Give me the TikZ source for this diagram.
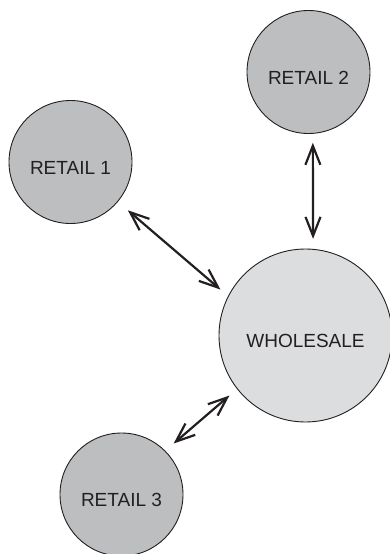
\documentclass[tikz,border=0pt]{standalone}
\usepackage{fontspec}
\setmainfont{Liberation Sans}
\usetikzlibrary{arrows.meta}
\definecolor{retailfill}{HTML}{BCBEC0}
\definecolor{wholefill}{HTML}{DCDDDE}
\definecolor{ink}{HTML}{231F20}
\begin{document}
\begin{tikzpicture}[x=1pt,y=-1pt,
  market/.style={circle, draw=ink, line width=0.9pt, text=ink,
    font=\fontsize{19}{21}\selectfont, text height=24pt, text depth=0pt,
    inner sep=0pt},
  retail/.style={market, fill=retailfill, minimum size=123pt},
  wholesale/.style={market, fill=wholefill, minimum size=173pt},
  link/.style={draw=ink, line width=2.2pt,
    {Straight Barb[length=19pt,width=15pt]}-{Straight Barb[length=19pt,width=15pt]}}]
  \useasboundingbox (0,0) rectangle (390,554);

  \node[retail]    (r1) at (70.5,162)   {RETAIL 1};
  \node[retail]    (r2) at (308.5,72)   {RETAIL 2};
  \node[wholesale] (w)  at (305.5,335.5) {WHOLESALE};
  \node[retail]    (r3) at (121.5,494.5) {RETAIL 3};

  \draw[link, shorten <=13pt, shorten >=10pt] (r1.-40) -- (w.153);
  \draw[link, shorten <=9pt,  shorten >=10pt] (r2.-86.3) -- (w.85.6);
  \draw[link, shorten <=11pt, shorten >=10pt] (r3.45) -- (w.-142);
\end{tikzpicture}
\end{document}
